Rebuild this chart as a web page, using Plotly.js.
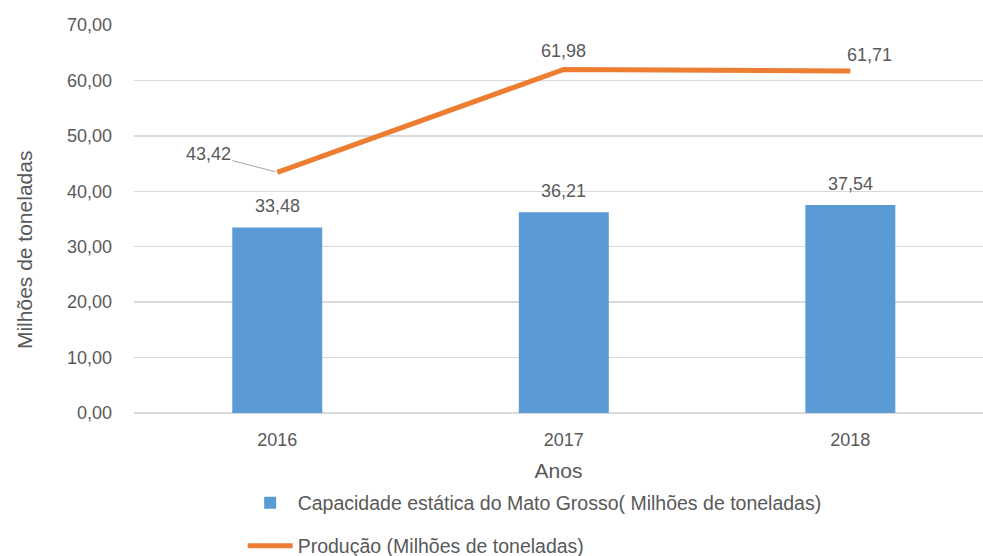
<!DOCTYPE html>
<html>
<head>
<meta charset="utf-8">
<script src="https://cdn.plot.ly/plotly-3.0.1.min.js"></script>
<style>html,body{margin:0;padding:0;background:#fff;}#chart{width:983px;height:556px;}</style>
</head>
<body>
<div id="chart"></div>
<script>
var years = ['2016', '2017', '2018'];
var capacidade = [33.48, 36.21, 37.54];
var producao = [43.42, 61.98, 61.71];
var yTicks = [0, 10, 20, 30, 40, 50, 60, 70];
var barName = 'Capacidade estática do Mato Grosso( Milhões de toneladas)';
var lineName = 'Produção (Milhões de toneladas)';

var txt = '#595959';
var font = 'Liberation Sans, Arial, sans-serif';
function fmt(v){ return v.toFixed(2).replace('.', ','); }

var traces = [
  {
    type: 'bar', x: years, y: capacidade, name: barName,
    marker: {color: '#5B9BD5'}, width: 0.314,
    hoverinfo: 'none', legend: 'legend'
  },
  {
    type: 'scatter', mode: 'lines', x: years, y: producao, name: lineName,
    line: {color: '#ED7D31', width: 5}, hoverinfo: 'none', legend: 'legend2'
  }
];

var annotations = [];
capacidade.forEach(function(v, i){
  annotations.push({x: i, y: v, xref: 'x', yref: 'y', text: fmt(v),
    showarrow: false, yanchor: 'bottom', yshift: 9, font: {size: 18, color: txt, family: font}});
});
var lineOffsets = [[-69, -18], [0, -18], [19, -16]];
producao.forEach(function(v, i){
  if (i === 0) {
    annotations.push({x: i, y: v, xref: 'x', yref: 'y', text: fmt(v),
      showarrow: true, arrowhead: 0, arrowwidth: 1, arrowcolor: '#A6A6A6',
      ax: lineOffsets[i][0], ay: lineOffsets[i][1], standoff: 2,
      font: {size: 18, color: txt, family: font}});
  } else {
    annotations.push({x: i, y: v, xref: 'x', yref: 'y', text: fmt(v),
      showarrow: false, xshift: lineOffsets[i][0], yshift: -lineOffsets[i][1],
      font: {size: 18, color: txt, family: font}});
  }
});
annotations.push({xref: 'paper', yref: 'paper', x: 0, xshift: -110, y: 0.42,
  text: 'Milhões de toneladas', textangle: -90, showarrow: false,
  xanchor: 'center', yanchor: 'middle', font: {size: 21, color: txt, family: font}});

var layout = {
  width: 983, height: 556,
  margin: {l: 134, r: 0, t: 25, b: 143, autoexpand: false},
  paper_bgcolor: '#fff', plot_bgcolor: '#fff',
  separators: ',.',
  font: {family: font, color: txt, size: 18},
  xaxis: {
    type: 'category', range: [-0.5, 2.463], showgrid: false, zeroline: false,
    showline: false, ticks: '', ticklabelstandoff: 14, tickfont: {size: 18, color: txt},
    title: {text: 'Anos', font: {size: 21, color: txt}, standoff: 14}
  },
  yaxis: {
    range: [0, 70], tickvals: yTicks, tickformat: '.2f',
    showgrid: true, gridcolor: '#D9D9D9', gridwidth: 1.5,
    zeroline: true, zerolinecolor: '#D9D9D9', zerolinewidth: 1.5,
    ticks: '', ticklabelstandoff: 21, tickfont: {size: 18, color: txt}
  },
  showlegend: true,
  legend: {x: 0.128, xref: 'paper', yref: 'container', y: 0.0953, yanchor: 'middle', xanchor: 'left',
    bgcolor: 'rgba(0,0,0,0)', font: {size: 19.5, color: txt}, itemwidth: 45},
  legend2: {x: 0.128, xref: 'paper', yref: 'container', y: 0.018, yanchor: 'middle', xanchor: 'left',
    bgcolor: 'rgba(0,0,0,0)', font: {size: 19.5, color: txt}, itemwidth: 45},
  annotations: annotations
};

Plotly.newPlot('chart', traces, layout, {staticPlot: true, displayModeBar: false});
</script>
</body>
</html>
